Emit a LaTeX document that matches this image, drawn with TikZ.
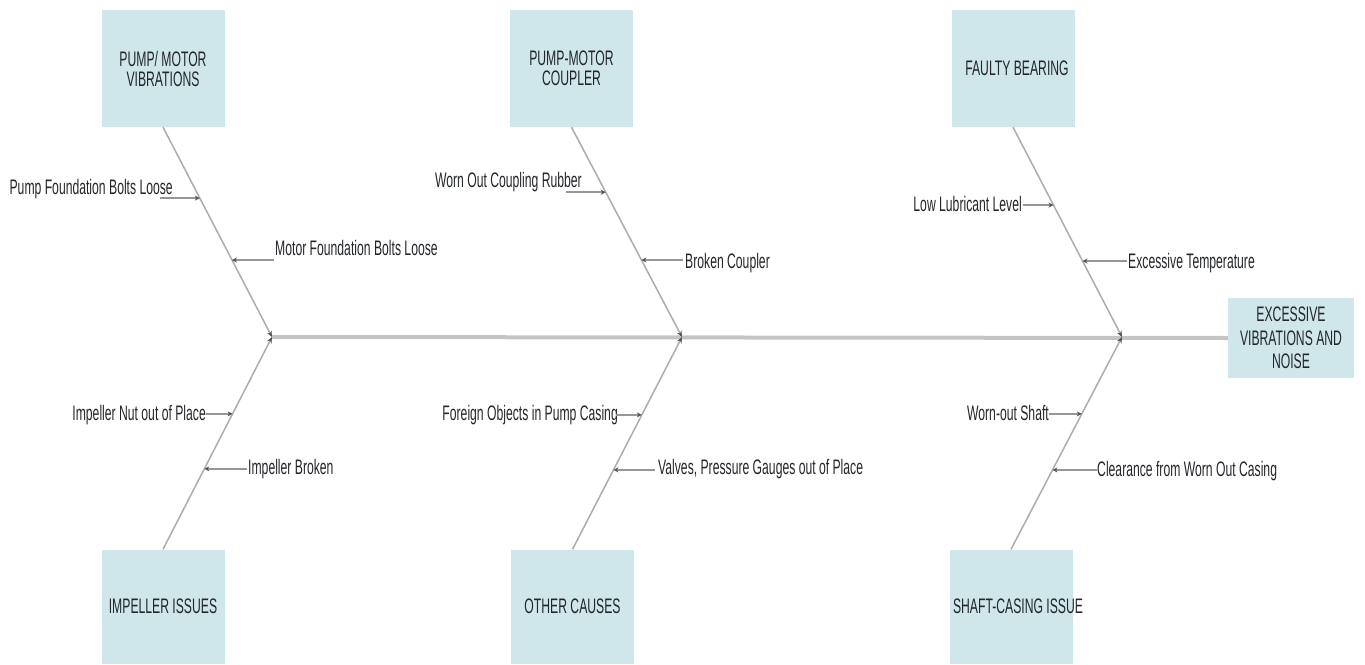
\documentclass[tikz,border=0pt]{standalone}
\usepackage{fontspec}
\setmainfont{Liberation Sans}[FakeStretch=0.58]
\usetikzlibrary{arrows.meta, positioning, calc}

\definecolor{boxblue}{RGB}{207,230,234}
\definecolor{spinegray}{RGB}{196,196,196}
\definecolor{bonegray}{RGB}{172,172,172}
\definecolor{twiggray}{RGB}{150,150,150}
\definecolor{tipgray}{RGB}{85,85,85}
\definecolor{inkgray}{RGB}{35,38,42}

\newcommand{\fishfont}{\fontsize{21}{20}\selectfont}
\newcommand{\headfont}{\fontsize{21}{23.5}\selectfont}

\begin{document}
\begin{tikzpicture}[x=1pt, y=-1pt,
    category/.style={fill=boxblue, minimum width=123pt, minimum height=117pt, inner xsep=0pt, align=center, text=inkgray, font=\fishfont},
    effect/.style={fill=boxblue, minimum width=126pt, minimum height=80pt, align=center, text=inkgray, font=\headfont},
    cause/.style={inner sep=0pt, text height=15pt, text depth=0pt, text=inkgray, font=\fishfont},
    spine/.style={draw=spinegray, line width=4pt},
    bone/.style={draw=bonegray, line width=1.5pt, -{Stealth[length=6pt, width=5pt, color=tipgray]}},
    twig/.style={draw=twiggray, line width=2.5pt, -{Stealth[length=5pt, width=5pt, color=tipgray]}}]
    \useasboundingbox (0,0) rectangle (1365,664);

    % Categories
    \node[category] (vib) at (163,68.5) {PUMP/ MOTOR\\VIBRATIONS};
    \node[category] (coupler) at (571.5,68.5) {PUMP-MOTOR\\COUPLER};
    \node[category] (bearing) at (1013,68.5) {\makebox[0pt]{\hspace{8pt}FAULTY BEARING}};
    \node[category, minimum height=114pt] (impeller) at (163,606.5) {IMPELLER ISSUES};
    \node[category, minimum height=114pt] (other) at (572.5,606.5) {OTHER CAUSES};
    \node[category, minimum height=114pt] (shaft) at (1011,606.5) {\makebox[0pt]{\hspace{14pt}SHAFT-CASING ISSUE}};

    % Effect
    \node[effect] (head) at (1291,338) {EXCESSIVE\\VIBRATIONS AND\\NOISE};

    % Spine
    \coordinate (j1) at (272,337);
    \coordinate (j2) at (682,337);
    \coordinate (j3) at (1122,337);
    \draw[spine] (j1) -- (head.west);

    % Bones
    \draw[bone] (vib.south) -- (j1);
    \draw[bone] (impeller.north) -- (j1);
    \draw[bone] (coupler.south) -- (j2);
    \draw[bone] (other.north) -- (j2);
    \draw[bone] (bearing.south) -- (j3);
    \draw[bone] (shaft.north) -- (j3);

    % Points on the bones
    \coordinate (p11) at ($(vib.south)!0.338!(j1)$);
    \coordinate (p12) at ($(vib.south)!0.633!(j1)$);
    \coordinate (p21) at ($(coupler.south)!0.31!(j2)$);
    \coordinate (p22) at ($(coupler.south)!0.633!(j2)$);
    \coordinate (p31) at ($(bearing.south)!0.371!(j3)$);
    \coordinate (p32) at ($(bearing.south)!0.638!(j3)$);
    \coordinate (q11) at ($(impeller.north)!0.638!(j1)$);
    \coordinate (q12) at ($(impeller.north)!0.379!(j1)$);
    \coordinate (q21) at ($(other.north)!0.633!(j2)$);
    \coordinate (q22) at ($(other.north)!0.374!(j2)$);
    \coordinate (q31) at ($(shaft.north)!0.638!(j3)$);
    \coordinate (q32) at ($(shaft.north)!0.374!(j3)$);

    % Causes
    \node[cause, anchor=east] (c11) at (173,187) {Pump Foundation Bolts Loose};
    \node[cause, anchor=west] (c12) at (275,248) {Motor Foundation Bolts Loose};
    \node[cause, anchor=east] (c21) at (582,180) {Worn Out Coupling Rubber};
    \node[cause, anchor=west] (c22) at (685,261) {Broken Coupler};
    \node[cause, anchor=east] (c31) at (1022,204) {Low Lubricant Level};
    \node[cause, anchor=west] (c32) at (1128,261) {Excessive Temperature};
    \node[cause, anchor=east] (d11) at (206,413) {Impeller Nut out of Place};
    \node[cause, anchor=west] (d12) at (248,467) {Impeller Broken};
    \node[cause, anchor=east] (d21) at (618,413) {Foreign Objects in Pump Casing};
    \node[cause, anchor=west] (d22) at (658,467) {Valves, Pressure Gauges out of Place};
    \node[cause, anchor=east] (d31) at (1049,413) {Worn-out Shaft};
    \node[cause, anchor=west] (d32) at (1097,469) {Clearance from Worn Out Casing};

    % Tails of the twigs
    \coordinate (s11) at ($(p11)+(-40,0)$);
    \coordinate (s12) at ($(p12)+(42,0)$);
    \coordinate (s21) at ($(p21)+(-40,0)$);
    \coordinate (s22) at ($(p22)+(42,0)$);
    \coordinate (s31) at ($(p31)+(-30,0)$);
    \coordinate (s32) at ($(p32)+(44,0)$);
    \coordinate (t11) at ($(q11)+(-27,0)$);
    \coordinate (t12) at ($(q12)+(43,0)$);
    \coordinate (t21) at ($(q21)+(-26,0)$);
    \coordinate (t22) at ($(q22)+(42,0)$);
    \coordinate (t31) at ($(q31)+(-33,0)$);
    \coordinate (t32) at ($(q32)+(44,0)$);

    % Twigs
    \foreach \s/\p in {s11/p11, s12/p12, s21/p21, s22/p22, s31/p31, s32/p32,
                       t11/q11, t12/q12, t21/q21, t22/q22, t31/q31, t32/q32}
        \draw[twig] (\s) -- (\p);
\end{tikzpicture}
\end{document}
